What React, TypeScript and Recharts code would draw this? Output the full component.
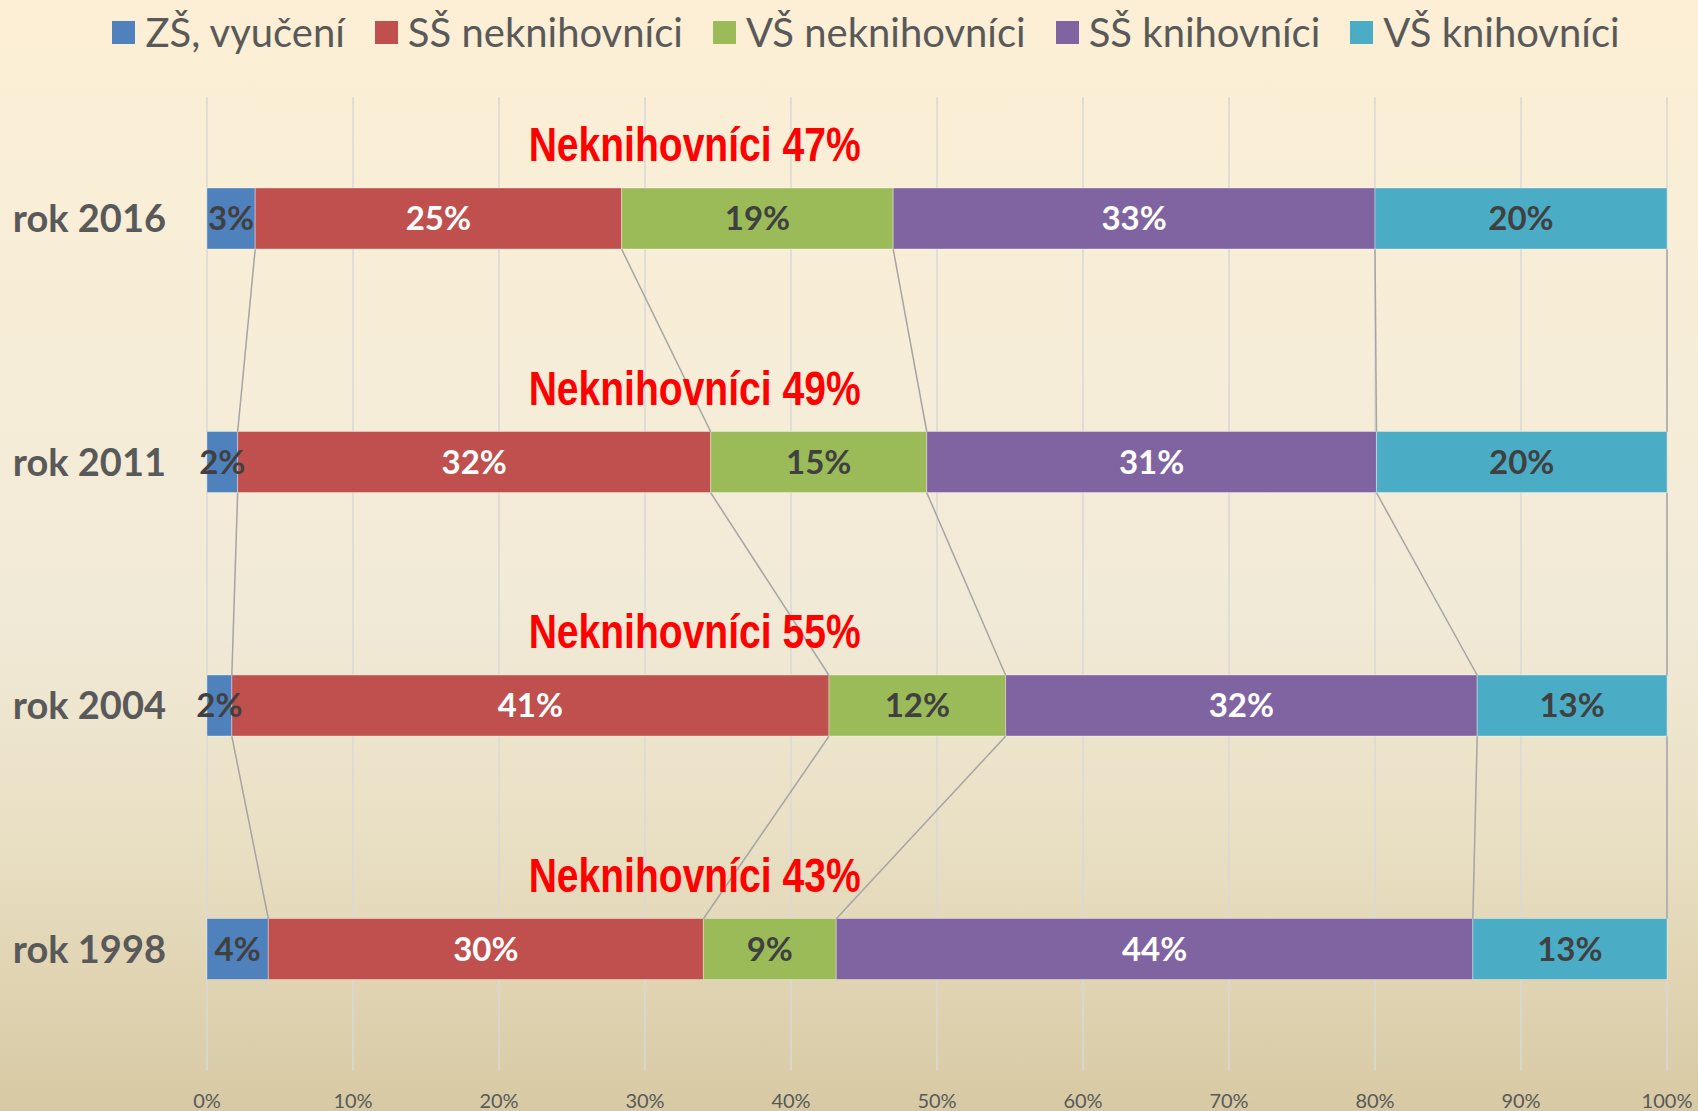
import React from "react";
import {
  BarChart,
  Bar,
  XAxis,
  YAxis,
  CartesianGrid,
  Legend,
  LabelList,
  ReferenceLine,
  ReferenceDot,
} from "recharts";

// categories, top to bottom
const years = ["rok 2016", "rok 2011", "rok 2004", "rok 1998"];

// shares in %
const zsVyuceni = [3.3, 2.1, 1.7, 4.2];
const ssNeknihovnici = [25.1, 32.4, 40.9, 29.8];
const vsNeknihovnici = [18.6, 14.8, 12.1, 9.1];
const ssKnihovnici = [33.0, 30.8, 32.3, 43.6];
const vsKnihovnici = [20.0, 19.9, 13.0, 13.3];

// red call-outs above each bar
const neknihovniciTotals = [47, 49, 55, 43];

const xTicks = [0, 10, 20, 30, 40, 50, 60, 70, 80, 90, 100];

const FONT = "Lato, 'Open Sans', sans-serif";
const BAR_SIZE = 61;
const ANNOTATION_X = 33.4;

const series = [
  { key: "zs", name: "ZŠ, vyučení", color: "#4F81BD", label: "#404040", values: zsVyuceni },
  { key: "ssN", name: "SŠ neknihovníci", color: "#C0504D", label: "#FFFFFF", values: ssNeknihovnici },
  { key: "vsN", name: "VŠ neknihovníci", color: "#9BBB59", label: "#404040", values: vsNeknihovnici },
  { key: "ssK", name: "SŠ knihovníci", color: "#8064A2", label: "#FFFFFF", values: ssKnihovnici },
  { key: "vsK", name: "VŠ knihovníci", color: "#4BACC6", label: "#404040", values: vsKnihovnici },
];

const data = years.map((year, i) => {
  const row: Record<string, string | number> = { year };
  series.forEach((s) => (row[s.key] = s.values[i]));
  return row;
});

// running total at the right edge of series k in row i
const cumulative = (i: number, k: number) =>
  series.slice(0, k + 1).reduce((sum, s) => sum + s.values[i], 0);

const SeriesLine = (props: any) => (
  <line
    x1={props.x1}
    y1={props.y1 + BAR_SIZE / 2}
    x2={props.x2}
    y2={props.y2 - BAR_SIZE / 2}
    stroke="#A5A5A5"
    strokeWidth={1.5}
  />
);

const renderLegend = () => (
  <div
    style={{
      height: 97,
      display: "flex",
      justifyContent: "center",
      alignItems: "flex-start",
      paddingLeft: 34,
      paddingTop: 8,
      boxSizing: "border-box",
      fontFamily: FONT,
      fontSize: 40,
      color: "#595959",
      gap: 30,
    }}
  >
    {series.map((s) => (
      <div key={s.key} style={{ display: "flex", alignItems: "center", lineHeight: "48px" }}>
        <span style={{ width: 23, height: 23, background: s.color, marginRight: 10, display: "inline-block" }} />
        <span>{s.name}</span>
      </div>
    ))}
  </div>
);

const annotation = (text: string) => (props: any) => {
  const vb = props.viewBox || {};
  return (
    <text
      x={vb.x}
      y={vb.y - BAR_SIZE / 2 - 27}
      textAnchor="middle"
      fontFamily="'Liberation Sans', Arial, sans-serif"
      fontWeight="bold"
      fontSize={49}
      fill="#FF0000"
      textLength={332}
      lengthAdjust="spacingAndGlyphs"
    >
      {text}
    </text>
  );
};

export default function App() {
  return (
    <div
      style={{
        position: "absolute",
        left: 0,
        top: 0,
        width: 1698,
        height: 1111,
        fontFamily: FONT,
        background:
          "linear-gradient(to bottom, #FCEFD5 0%, #F6EDD8 35%, #F1EAD7 55%, #E9DFC3 76%, #D7C9A3 100%)",
      }}
    >
      <BarChart
        width={1698}
        height={1111}
        data={data}
        layout="vertical"
        margin={{ top: 0, right: 31, left: 0, bottom: 0 }}
      >
        <CartesianGrid horizontal={false} stroke="#D9D9D9" strokeWidth={1.5} />
        <Legend
          verticalAlign="top"
          content={renderLegend}
          wrapperStyle={{ left: 0, top: 0, width: 1698 }}
        />
        <XAxis
          type="number"
          domain={[0, 100]}
          ticks={xTicks}
          tickFormatter={(v) => `${v}%`}
          axisLine={false}
          tickLine={false}
          height={40}
          tickMargin={17}
          tick={{ fill: "#595959", fontSize: 20, fontFamily: FONT }}
        />
        <YAxis
          type="category"
          dataKey="year"
          width={207}
          axisLine={false}
          tickLine={false}
          tickMargin={35}
          tick={{ fill: "#595959", fontSize: 38, fontWeight: 700, fontFamily: FONT }}
        />
        {series.map((s) => (
          <Bar
            key={s.key}
            dataKey={s.key}
            name={s.name}
            stackId="a"
            fill={s.color}
            barSize={BAR_SIZE}
            stroke="rgba(255,255,255,0.35)"
            strokeWidth={1}
            isAnimationActive={false}
          >
            <LabelList
              dataKey={s.key}
              position="center"
              formatter={(v: any) => `${Math.round(Number(v))}%`}
              fill={s.label}
              fontSize={33}
              fontWeight={700}
              fontFamily={FONT}
            />
          </Bar>
        ))}
        {years.slice(0, -1).map((year, i) =>
          series.map((s, k) => (
            <ReferenceLine
              key={`${year}-${s.key}`}
              segment={[
                { x: cumulative(i, k), y: year },
                { x: cumulative(i + 1, k), y: years[i + 1] },
              ]}
              shape={SeriesLine}
            />
          ))
        )}
        {years.map((year, i) => (
          <ReferenceDot
            key={`note-${year}`}
            x={ANNOTATION_X}
            y={year}
            r={0}
            fill="none"
            stroke="none"
            label={annotation(`Neknihovníci ${neknihovniciTotals[i]}%`)}
          />
        ))}
      </BarChart>
    </div>
  );
}
